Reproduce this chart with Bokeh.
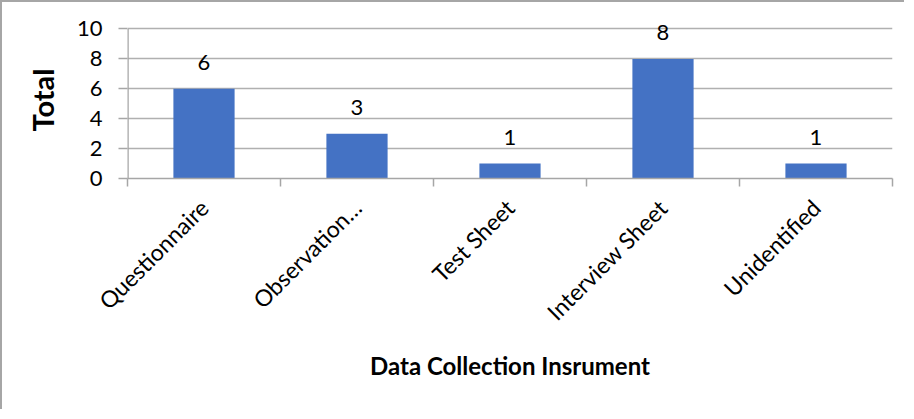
from bokeh.plotting import figure
from bokeh.models import ColumnDataSource, FixedTicker, LabelSet, Range1d
from bokeh.core.properties import value
from bokeh.embed import file_html
from bokeh.resources import INLINE
import math

categories = ["Questionnaire", "Observation…", "Test Sheet", "Interview Sheet", "Unidentified"]
totals = [6, 3, 1, 8, 1]
y_ticks = [0, 2, 4, 6, 8, 10]

FONT = "Lato"
positions = [i + 0.5 for i in range(len(categories))]
source = ColumnDataSource(dict(x=positions, top=totals, lab=[str(v) for v in totals]))

p = figure(width=904, height=409, output_backend="svg", toolbar_location=None,
           x_range=Range1d(0, len(categories)), y_range=Range1d(0, max(y_ticks) + 0.5),
           min_border_left=125, min_border_right=14, min_border_top=19, min_border_bottom=233)
p.styles = {"border-left": "2px solid #a6a6a6", "border-top": "2px solid #a6a6a6"}
p.outline_line_color = None
p.background_fill_color = "white"
p.border_fill_color = "white"

p.xgrid.grid_line_color = None
p.ygrid.ticker = FixedTicker(ticks=y_ticks)
p.ygrid.grid_line_color = "#b0b0b0"
p.ygrid.grid_line_width = 1.5

p.vbar(x="x", top="top", width=0.4, bottom=0, source=source,
       fill_color="#4472C4", line_color=None)

# visible y axis line only from 0 to the top tick
p.segment(x0=[0], y0=[min(y_ticks)], x1=[0], y1=[max(y_ticks)],
          line_color="#a6a6a6", line_width=2.5)

labels = LabelSet(x="x", y="top", text="lab", source=source, text_align="center",
                  text_baseline="bottom", y_offset=19, text_font_size="22px",
                  text_font=value(FONT), text_color="black")
p.add_layout(labels)

# y axis
p.yaxis.ticker = FixedTicker(ticks=y_ticks)
p.yaxis.axis_line_color = None
p.yaxis.major_tick_line_color = "#a6a6a6"
p.yaxis.major_tick_line_width = 1.5
p.yaxis.major_tick_out = 9
p.yaxis.major_tick_in = 0
p.yaxis.minor_tick_line_color = None
p.yaxis.major_label_text_font = FONT
p.yaxis.major_label_text_font_size = "22px"
p.yaxis.major_label_text_color = "black"
p.yaxis.major_label_standoff = 16
p.yaxis.axis_label = "Total"
p.yaxis.axis_label_text_font = FONT
p.yaxis.axis_label_text_font_size = "29px"
p.yaxis.axis_label_text_font_style = "bold"
p.yaxis.axis_label_text_color = "black"
p.yaxis.axis_label_standoff = 14

# x axis
p.xaxis.ticker = FixedTicker(ticks=positions, minor_ticks=list(range(len(categories) + 1)))
p.xaxis.major_label_overrides = {pos: c for pos, c in zip(positions, categories)}
p.xaxis.major_label_orientation = math.pi / 4
p.xaxis.axis_line_color = "#a6a6a6"
p.xaxis.axis_line_width = 1.5
p.xaxis.major_tick_line_color = None
p.xaxis.major_tick_out = 0
p.xaxis.major_tick_in = 0
p.xaxis.minor_tick_line_color = "#a6a6a6"
p.xaxis.minor_tick_line_width = 1.5
p.xaxis.minor_tick_out = 8
p.xaxis.minor_tick_in = 0
p.xaxis.major_label_text_font = FONT
p.xaxis.major_label_text_font_size = "23px"
p.xaxis.major_label_text_color = "black"
p.xaxis.major_label_standoff = 17
p.xaxis.axis_label = "Data Collection Insrument"
p.xaxis.axis_label_text_font = FONT
p.xaxis.axis_label_text_font_size = "24px"
p.xaxis.axis_label_text_font_style = "bold"
p.xaxis.axis_label_text_color = "black"
p.xaxis.axis_label_standoff = 13

open("out.html", "w").write(file_html(p, INLINE))
